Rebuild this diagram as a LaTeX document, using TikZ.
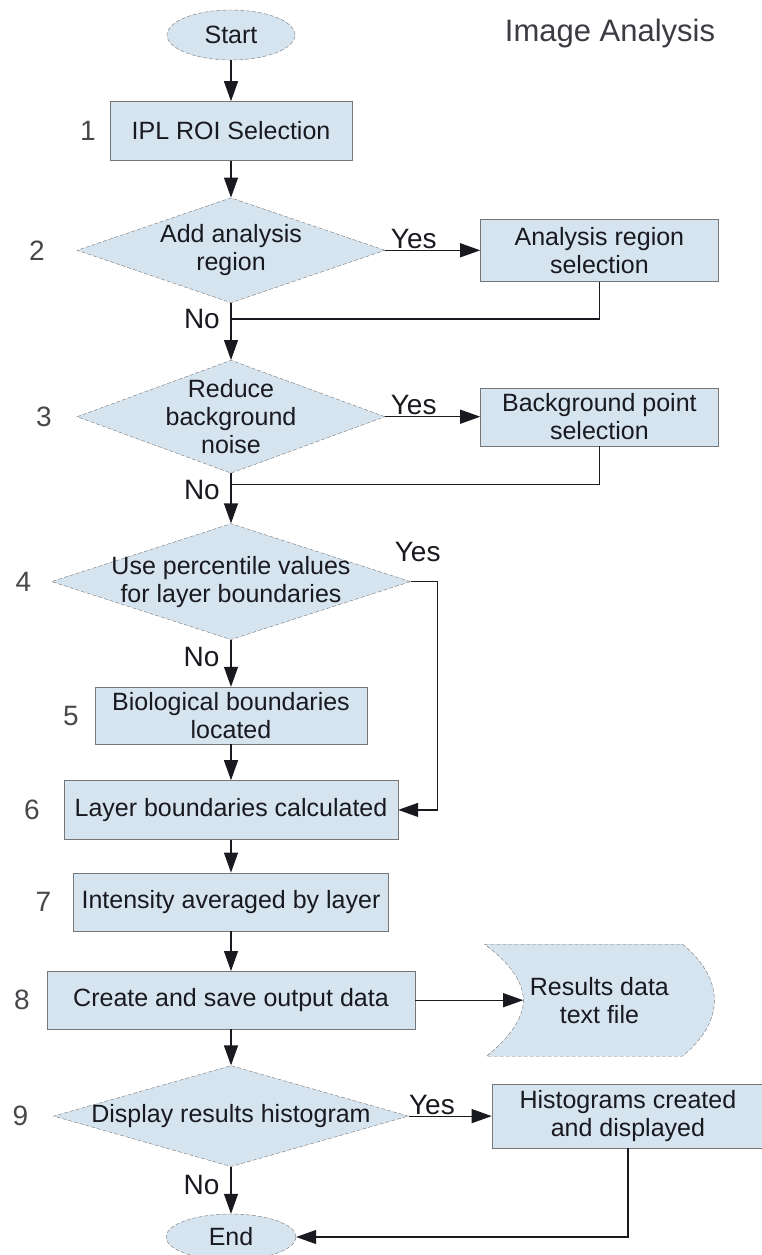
\documentclass[tikz,border=0pt]{standalone}
\usepackage{fontspec}
\setmainfont{Liberation Sans}
\usetikzlibrary{shapes.geometric, arrows.meta, positioning, backgrounds}
\definecolor{boxfill}{RGB}{214,228,240}
\definecolor{edgegray}{RGB}{118,118,118}
\definecolor{inkdark}{RGB}{25,25,32}
\newcommand{\nodefont}{\fontsize{25}{28}\selectfont}
\newcommand{\tagfont}{\fontsize{28}{30}\selectfont}
\newcommand{\titlefont}{\fontsize{31}{34}\selectfont}

\begin{document}
\begin{tikzpicture}[
    block/.style={rectangle, draw=edgegray, fill=boxfill, text=inkdark, align=center, font=\nodefont, inner sep=3pt},
    decision/.style={diamond, draw=edgegray, dash pattern=on 4pt off 2pt, fill=boxfill, text=inkdark, align=center, font=\nodefont, shape aspect=3, inner xsep=-30pt, inner ysep=-10pt},
    terminal/.style={ellipse, draw=edgegray, dash pattern=on 4pt off 2pt, fill=boxfill, text=inkdark, font=\nodefont, inner sep=0pt},
    store/.style={draw=edgegray, dash pattern=on 4pt off 2pt, fill=boxfill},
    line/.style={draw=inkdark, line width=1.2pt, -{Triangle[width=14pt,length=20pt]}},
    link/.style={draw=inkdark, line width=1.2pt},
    answer/.style={font=\tagfont, text=inkdark, inner sep=0pt},
    stepno/.style={font=\tagfont, text=inkdark!80, inner sep=0pt}
]
    \useasboundingbox (0,0) rectangle (762pt,-1255pt);

    % Title
    \node [font=\titlefont, text=inkdark!85] (title) at (610pt,-33pt) {Image Analysis};

    % Main column
    \node [terminal, minimum width=128pt, minimum height=50pt] (start) at (231pt,-35pt) {Start};
    \node [block, below=41pt of start, minimum width=242pt, minimum height=59pt] (roi) {IPL ROI Selection};
    \node [decision, below=37pt of roi, minimum width=308pt, minimum height=105pt] (d2) {Add analysis\\region};
    \node [decision, below=57pt of d2, minimum width=308pt, minimum height=113pt] (d3) {Reduce\\background\\noise};
    \node [decision, below=50pt of d3, minimum width=359pt, minimum height=116pt] (d4) {Use percentile values\\for layer boundaries};
    \node [block, below=47pt of d4, minimum width=272pt, minimum height=57pt] (bio) {Biological boundaries\\located};
    \node [block, below=36pt of bio, minimum width=334pt, minimum height=59pt] (layers) {Layer boundaries calculated};
    \node [block, below=33pt of layers, minimum width=315pt, minimum height=58pt] (intensity) {Intensity averaged by layer};
    \node [block, below=40pt of intensity, minimum width=368pt, minimum height=58pt] (save) {Create and save output data};
    \node [decision, below=36pt of save, minimum width=355pt, minimum height=101pt] (d9) {Display results histogram};
    \node [terminal, below=47pt of d9, minimum width=130pt, minimum height=46pt] (stop) {End};

    % Side branches
    \node [block, right=95pt of d2, minimum width=238pt, minimum height=62pt] (region) {Analysis region\\selection};
    \node [block, right=95pt of d3, minimum width=238pt, minimum height=58pt] (bgpoint) {Background point\\selection};
    \node [block, right=83pt of d9, minimum width=272pt, minimum height=64pt] (histo) {Histograms created\\and displayed};
    \node [right=108pt of save, minimum width=152pt, minimum height=112pt, font=\nodefont, text=inkdark, align=center, inner sep=0pt] (results) {Results data\\text file};

    % Stored data shape
    \begin{scope}[on background layer, shift={(results.center)}]
        \path [store] (-115pt,56pt) -- (83pt,56pt) .. controls (103pt,40pt) and (115pt,20pt) .. (115pt,0pt)
            .. controls (115pt,-20pt) and (103pt,-40pt) .. (83pt,-56pt) -- (-113pt,-56pt)
            .. controls (-93pt,-40pt) and (-76pt,-20pt) .. (-76pt,0pt)
            .. controls (-76pt,20pt) and (-93pt,40pt) .. (-115pt,56pt) -- cycle;
    \end{scope}

    % Step numbers
    \node [stepno, left=14pt of roi] (n1) {1};
    \node [stepno, left=32pt of d2] (n2) {2};
    \node [stepno, left=25pt of d3] (n3) {3};
    \node [stepno, left=20pt of d4] (n4) {4};
    \node [stepno, left=16pt of bio] (n5) {5};
    \node [stepno, left=24pt of layers] (n6) {6};
    \node [stepno, left=22pt of intensity] (n7) {7};
    \node [stepno, left=17pt of save] (n8) {8};
    \node [stepno, left=25pt of d9] (n9) {9};

    % Connections
    \path [line] (start) -- (roi);
    \path [line] (roi) -- (d2);

    % Analysis region branch
    \path [line] (d2) -- node [answer, above=1pt, pos=0.3] (yes2) {Yes} (region);
    \coordinate [below=16pt of d2] (m2);
    \path [line] (d2) -- (d3);
    \node [answer, left=11pt of m2] (no2) {No};
    \path [link] (region) |- (m2);

    % Background noise branch
    \path [line] (d3) -- node [answer, above=1pt, pos=0.3] (yes3) {Yes} (bgpoint);
    \coordinate [below=11pt of d3] (m3);
    \path [line] (d3) -- (d4);
    \node [answer, left=11pt of m3, yshift=-6pt] (no3) {No};
    \path [link] (bgpoint) |- (m3);

    % Percentile branch
    \path [line] (d4) -- node [answer, left=11pt, pos=0.36] (no4) {No} (bio);
    \path [line] (d4.east) -- ++(27pt,0) |- (layers);
    \node [answer, above=20pt of d4.east, xshift=7pt] (yes4) {Yes};

    \path [line] (bio) -- (layers);
    \path [line] (layers) -- (intensity);
    \path [line] (intensity) -- (save);
    \path [line] (save) -- (results);
    \path [line] (save) -- (d9);

    % Histogram branch
    \path [line] (d9) -- node [answer, above=1pt, pos=0.28] (yes9) {Yes} (histo);
    \path [line] (d9) -- node [answer, left=11pt, pos=0.38] (no9) {No} (stop);
    \path [line] (histo) |- (stop);

\end{tikzpicture}
\end{document}
